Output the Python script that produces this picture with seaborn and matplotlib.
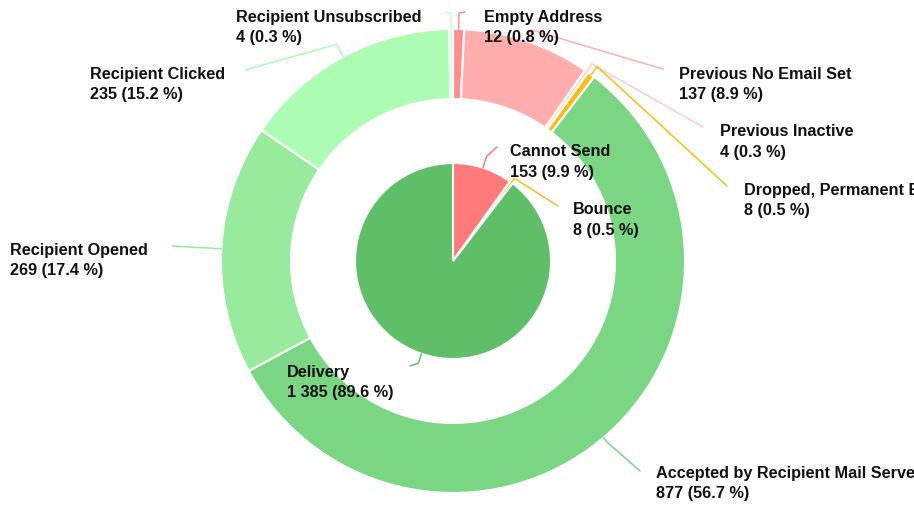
import numpy as np
import seaborn as sns
import matplotlib
matplotlib.use("Agg")
import matplotlib.pyplot as plt

# inner pie
inner_labels = ["Cannot Send", "Bounce", "Delivery"]
inner_values = [153, 8, 1385]
inner_colors = ["#ff7a7a", "#fbbc14", "#5fbe68"]

# outer ring
outer_labels = ["Empty Address", "Previous No Email Set", "Previous Inactive",
                "Dropped, Permanent Bounce", "Accepted by Recipient Mail Server",
                "Recipient Opened", "Recipient Clicked", "Recipient Unsubscribed"]
outer_values = [12, 137, 4, 8, 877, 269, 235, 4]
outer_colors = ["#ff8f8f", "#ffadad", "#ffcccc", "#fbbc14", "#7ad683",
                "#98eb9c", "#adfcb3", "#c9ffcd"]

W, H = 914, 506
CX, CY = 453, 262
R_OUT, RING_W, R_IN = 232, 70, 98

# label text (left x, first line y) and leader end point, in pixel coords (y down)
outer_text_pos = [(484, 17), (679, 74), (720, 132), (744, 190), (656, 474),
                  (10, 250), (90, 74), (236, 17)]
outer_line_end = [(465, 13), (663, 70), (703, 128), (727, 187), (640, 472),
                  (172, 247), (245, 71), (445, 13)]
outer_elbow = [16, 12, 9, 10, 6, 4, 14, 16]
inner_text_pos = [(510, 152), (573, 210), (287, 372)]
inner_line_end = [(497, 148), (558, 207), (410, 367)]
inner_elbow = [12, 5, 10]


def px(x, y):
    return x, H - y


def fmt(v, total):
    return f"{v:,}".replace(",", " ") + f" ({100 * v / total:.1f} %)"


sns.set_theme(style="white")
plt.rcParams["font.family"] = ["Liberation Sans", "DejaVu Sans"]

fig = plt.figure(figsize=(W / 100, H / 100), dpi=100)
ax = fig.add_axes([0, 0, 1, 1])

center = px(CX, CY)
wp = dict(edgecolor="white", linewidth=1.5)
ax.pie(outer_values, colors=outer_colors, radius=R_OUT, center=center,
       startangle=90, counterclock=False,
       wedgeprops=dict(width=RING_W, **wp), frame=True)
ax.pie(inner_values, colors=inner_colors, radius=R_IN, center=center,
       startangle=90, counterclock=False, wedgeprops=wp, frame=True)
ax.set_xlim(0, W)
ax.set_ylim(0, H)
ax.set_aspect("equal")
ax.axis("off")


def draw_labels(labels, values, colors, radius, text_pos, line_end, elbow):
    total = sum(values)
    cum = np.cumsum(values) - np.array(values) / 2
    for lab, v, c, m, tp, le, el in zip(labels, values, colors, cum,
                                        text_pos, line_end, elbow):
        ang = np.deg2rad(90 - 360 * m / total)
        x0 = center[0] + radius * np.cos(ang)
        y0 = center[1] + radius * np.sin(ang)
        x1 = center[0] + (radius + el) * np.cos(ang)
        y1 = center[1] + (radius + el) * np.sin(ang)
        ex, ey = px(*le)
        ax.plot([x0, x1, ex], [y0, y1, ey], color=c, lw=1.1,
                solid_joinstyle="round", zorder=3)
        tx, ty = px(*tp)
        ax.text(tx, ty, lab, fontsize=11.7, fontweight="bold", zorder=5,
                va="center", ha="left", color="#111111", clip_on=False)
        ax.text(tx, ty - 20, fmt(v, total), fontsize=11.7, fontweight="bold",
                zorder=5, va="center", ha="left", color="#111111", clip_on=False)


draw_labels(outer_labels, outer_values, outer_colors, R_OUT,
            outer_text_pos, outer_line_end, outer_elbow)
draw_labels(inner_labels, inner_values, inner_colors, R_IN,
            inner_text_pos, inner_line_end, inner_elbow)

fig.savefig("out.png", dpi=100)
